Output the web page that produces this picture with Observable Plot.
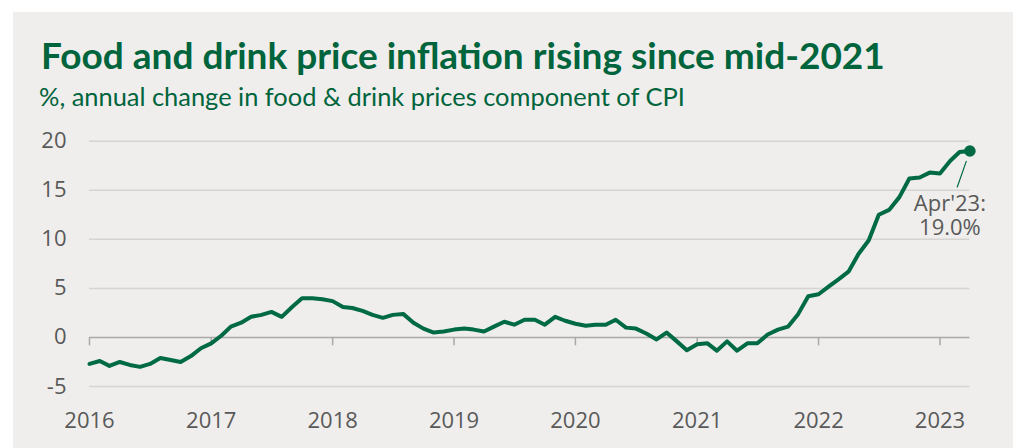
<!DOCTYPE html>
<html><head><meta charset="utf-8">
<script src="https://cdn.jsdelivr.net/npm/d3@7"></script>
<script src="https://cdn.jsdelivr.net/npm/@observablehq/plot@0.6"></script>
<style>
html,body{margin:0;padding:0;background:#fff;width:1013px;height:448px;overflow:hidden}
#panel{position:absolute;left:13px;top:12px;width:1000px;height:436px;background:#efeeec}
.t{position:absolute;white-space:nowrap;line-height:1;color:#00643c}
#title{left:41px;top:36px;font-family:Lato,sans-serif;font-weight:700;font-size:33px}
#subtitle{left:39px;top:84px;font-family:Lato,sans-serif;font-weight:400;font-size:23px}
#chart{position:absolute;left:0;top:120px}
</style></head><body>
<div id="panel"></div>
<div id="title" class="t">Food and drink price inflation rising since mid-2021</div>
<div id="subtitle" class="t">%, annual change in food &amp; drink prices component of CPI</div>
<div id="chart"></div>
<script>
// Monthly series, Jan 2016 - Apr 2023 (% annual change)
const startMonth = "2016-01-01";
const values = [
  -2.7, -2.4, -2.9, -2.5, -2.8, -3.0, -2.7, -2.1, -2.3, -2.5, -1.9, -1.1,   // 2016
  -0.6, 0.2, 1.1, 1.5, 2.1, 2.3, 2.6, 2.1, 3.1, 4.0, 4.0, 3.9,              // 2017
  3.7, 3.1, 3.0, 2.7, 2.3, 2.0, 2.3, 2.4, 1.5, 0.9, 0.5, 0.6,               // 2018
  0.8, 0.9, 0.8, 0.6, 1.1, 1.6, 1.3, 1.8, 1.8, 1.3, 2.1, 1.7,               // 2019
  1.4, 1.2, 1.3, 1.3, 1.8, 1.0, 0.9, 0.4, -0.2, 0.5, -0.4, -1.3,            // 2020
  -0.7, -0.6, -1.35, -0.4, -1.35, -0.6, -0.6, 0.3, 0.8, 1.1, 2.4, 4.2,      // 2021
  4.4, 5.2, 5.9, 6.7, 8.5, 9.9, 12.5, 13.0, 14.3, 16.2, 16.3, 16.8,         // 2022
  16.7, 18.0, 18.9, 19.0                                                    // 2023
];
const yTicks = [-5, 0, 5, 10, 15, 20];
const xTickYears = [2016, 2017, 2018, 2019, 2020, 2021, 2022, 2023];
const annotationText = "Apr'23:\n19.0%";

const green = "#006a44";
const start = new Date(startMonth);
const data = values.map((v, i) => ({date: d3.utcMonth.offset(start, i), value: v}));
const last = data[data.length - 1];
const yearDates = xTickYears.map(y => new Date(Date.UTC(y, 0, 1)));

const chart = Plot.plot({
  width: 1013,
  height: 328,
  marginLeft: 89,
  marginRight: 43.6,
  marginTop: 20.7,
  marginBottom: 62,
  style: {background: "transparent", fontFamily: "'Open Sans', sans-serif", fontSize: "22px", overflow: "visible"},
  x: {type: "utc", domain: [start, last.date]},
  y: {domain: [-5, 20]},
  marks: [
    Plot.gridY(yTicks.filter(d => d !== 0), {stroke: "#d6d4d1", strokeOpacity: 1, strokeWidth: 1.5}),
    Plot.ruleY([0], {stroke: "#a9a9a9", strokeWidth: 1.5}),
    Plot.ruleX(yearDates, {x: d => d, y1: 0, y2: -0.85, stroke: "#a9a9a9", strokeWidth: 1.5}),
    Plot.axisY({ticks: yTicks, tickFormat: d => String(d), tickSize: 0, tickPadding: 23, fill: "#595959", fontSize: 22, label: null}),
    Plot.axisX({ticks: yearDates, tickFormat: "%Y", tickSize: 0, tickPadding: 26, fill: "#595959", fontSize: 22, label: null}),
    Plot.lineY(data, {x: "date", y: "value", stroke: green, strokeWidth: 4, strokeLinejoin: "round"}),
    Plot.arrow([last], {x1: "date", y1: "value", x2: d => d3.utcDay.offset(d.date, -38), y2: d => d.value - 3.67,
      stroke: green, strokeWidth: 1.2, headLength: 0, insetStart: 11}),
    Plot.dot([last], {x: "date", y: "value", r: 5.8, fill: green}),
    Plot.text([last], {x: "date", y: "value", text: () => annotationText, dx: -20, dy: 43,
      lineAnchor: "top", lineHeight: 1.09, textAnchor: "middle", fill: "#595959", fontSize: 22})
  ]
});
document.getElementById("chart").appendChild(chart);

// fit title widths to the reference
function fit(id, target) {
  const el = document.getElementById(id);
  const w = el.getBoundingClientRect().width;
  const fs = parseFloat(getComputedStyle(el).fontSize);
  el.style.fontSize = (fs * target / w) + "px";
}
fit("title", 844);
fit("subtitle", 646);
</script>
</body></html>
